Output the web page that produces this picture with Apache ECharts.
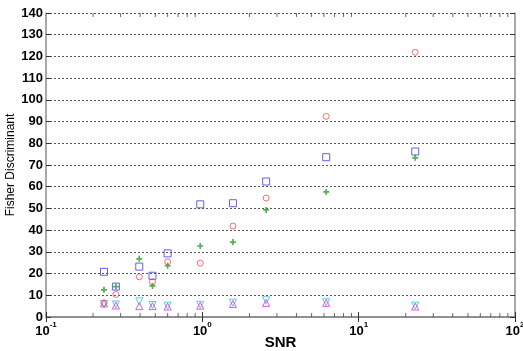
<!DOCTYPE html>
<html>
<head>
<meta charset="utf-8">
<script src="https://cdn.jsdelivr.net/npm/echarts@6/dist/echarts.min.js"></script>
<style>
  html, body { margin: 0; padding: 0; background: #fff; }
  #chart { width: 523px; height: 351px; }
</style>
</head>
<body>
<div id="chart"></div>
<script>
// Fisher discriminant vs SNR

const snr = [0.235, 0.28, 0.395, 0.48, 0.60, 0.97, 1.57, 2.56, 6.2, 23];
const blueSquares = [20.8, 14.0, 23.2, 19.0, 29.3, 51.9, 52.4, 62.4, 73.6, 76.2];
const redCircles = [6.5, 10.4, 18.5, 16.2, 25.4, 24.8, 41.9, 54.8, 92.4, 121.9];
const greenPlus = [12.5, 14.0, 26.8, 14.3, 23.6, 32.7, 34.5, 49.3, 57.6, 73.3];
const cyanDown = [6.0, 5.8, 7.2, 5.5, 5.2, 5.6, 6.6, 7.7, 6.8, 5.2];
const magentaUp = [6.2, 5.3, 5.0, 5.0, 4.8, 5.2, 6.0, 6.5, 6.5, 4.8];

const yTicks = [0, 140, 10];
const xDecades = [-1, 2];

const pair = (vals) => snr.map((x, i) => [x, vals[i]]);

// log minor tick positions (2..9 x 10^k)
const minorX = [];
for (let e = xDecades[0]; e < xDecades[1]; e++) {
    for (let m = 2; m <= 9; m++) minorX.push(+(m * Math.pow(10, e)).toPrecision(3));
}

const chart = echarts.init(document.getElementById('chart'));
const axisCol = '#8c8c8c';
const font = 'Liberation Sans, Arial, sans-serif';

const plus = 'path://M-1,-3.5H1V-1H3.5V1H1V3.5H-1V1H-3.5V-1H-1Z';

function marker(name, vals, symbol, color, size, rotate, filled) {
    return {
        name, type: 'scatter', data: pair(vals),
        symbol, symbolSize: size, symbolRotate: rotate || 0,
        itemStyle: filled
            ? { color }
            : { color: 'rgba(0,0,0,0)', borderColor: color, borderWidth: 1 },
        emphasis: { disabled: true },
        z: 3
    };
}

function logLabel(v) {
    const e = Math.round(Math.log10(v));
    return '{b|10}{s|' + e + '}';
}

const option = {
    animation: false,
    backgroundColor: '#fff',
    grid: { left: 46, right: 8, top: 13, bottom: 34, containLabel: false, outerBoundsMode: 'none' },
    xAxis: [{
        type: 'log', logBase: 10, min: 0.1, max: 100,
        name: 'SNR', nameLocation: 'middle', nameGap: 18, nameMoveOverlap: false,
        nameTextStyle: { fontFamily: font, fontWeight: 'bold', fontSize: 15, color: '#000' },
        axisLine: { show: true, lineStyle: { color: axisCol, width: 1.5 } },
        axisTick: { inside: true, length: 5, lineStyle: { color: '#333' } },
        axisLabel: {
            formatter: logLabel, margin: 4,
            rich: {
                b: { fontFamily: font, fontWeight: 'bold', fontSize: 13, color: '#000', padding: [4, 0, 0, 0] },
                s: { fontFamily: font, fontWeight: 'bold', fontSize: 8, color: '#000', verticalAlign: 'top', padding: [0, 0, 6, 0] }
            }
        },
        splitLine: { show: false }
    }, {
        type: 'log', logBase: 10, min: 0.1, max: 100, position: 'top',
        axisLine: { show: true, lineStyle: { color: axisCol, width: 1.5 } },
        axisTick: { inside: true, length: 5, lineStyle: { color: '#333' } },
        axisLabel: { show: false },
        splitLine: { show: false }
    }],
    yAxis: [{
        type: 'value', min: yTicks[0], max: yTicks[1], interval: yTicks[2],
        name: 'Fisher Discriminant', nameLocation: 'middle', nameGap: 29, nameMoveOverlap: false,
        nameTextStyle: { fontFamily: font, fontSize: 12, color: '#000' },
        axisLine: { show: true, lineStyle: { color: axisCol, width: 1.5 } },
        axisTick: { show: true, inside: true, length: 5, lineStyle: { color: '#333' } },
        axisLabel: { fontFamily: font, fontWeight: 'bold', fontSize: 13, color: '#000', margin: 3 },
        splitLine: { show: true, lineStyle: { color: '#555', type: [2, 2], width: 1 } }
    }, {
        type: 'value', min: yTicks[0], max: yTicks[1], interval: yTicks[2], position: 'right',
        axisLine: { show: true, lineStyle: { color: axisCol, width: 1.5 } },
        axisTick: { show: true, inside: true, length: 5, lineStyle: { color: '#333' } },
        axisLabel: { show: false },
        splitLine: { show: false }
    }],
    series: [
        {
            type: 'scatter', silent: true, symbol: 'rect', symbolSize: [1, 4], symbolOffset: [0, -2],
            data: minorX.map(x => [x, yTicks[0]]), itemStyle: { color: '#444' }, z: 1
        },
        {
            type: 'scatter', silent: true, symbol: 'rect', symbolSize: [1, 4], symbolOffset: [0, 2],
            data: minorX.map(x => [x, yTicks[1]]), itemStyle: { color: '#444' }, z: 1
        },
        marker('cyan', cyanDown, 'triangle', '#22c8d8', 7, 180, false),
        marker('magenta', magentaUp, 'triangle', '#e030e0', 7, 0, false),
        marker('red', redCircles, 'circle', '#ff4a4a', 6, 0, false),
        marker('green', greenPlus, plus, '#22a022', 6, 0, true),
        marker('blue', blueSquares, 'rect', '#3a3aff', 7, 0, false)
    ]
};

chart.setOption(option);
</script>
</body>
</html>
